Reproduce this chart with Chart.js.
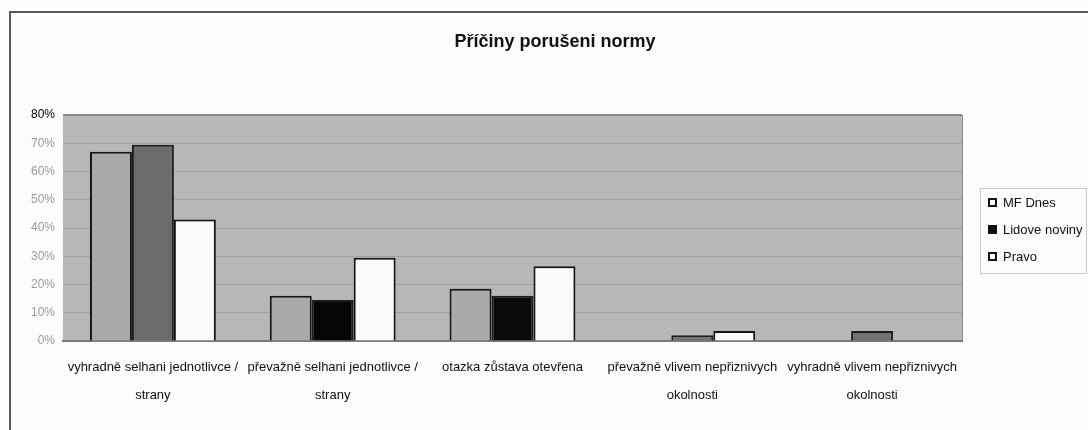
<!DOCTYPE html>
<html>
<head>
<meta charset="utf-8">
<script src="https://cdn.jsdelivr.net/npm/chart.js@4.4.1/dist/chart.umd.min.js"></script>
<style>
  html, body { margin: 0; padding: 0; background: #fcfcfc; }
  #wrap { position: relative; width: 1088px; height: 430px; }
  #legend {
    position: absolute; left: 980px; top: 188px; width: 105px; height: 84px;
    border: 1px solid #c9c9c9; font: 13px "Liberation Sans", Arial, sans-serif; color: #111;
  }
  #legend div { position: absolute; left: 7px; height: 16px; line-height: 16px; white-space: nowrap; }
  #legend span {
    display: inline-block; width: 5px; height: 5px; border: 2px solid #111;
    margin-right: 6px; vertical-align: middle; position: relative; top: -1px;
  }
</style>
</head>
<body>
<div id="wrap">
  <canvas id="myChart" width="1088" height="430"></canvas>
  <div id="legend"></div>
</div>
<script>
const categories = [
  ['vyhradně selhani jednotlivce /', 'strany'],
  ['převažně selhani jednotlivce /', 'strany'],
  ['otazka zůstava otevřena'],
  ['převažně vlivem nepřiznivych', 'okolnosti'],
  ['vyhradně vlivem nepřiznivych', 'okolnosti']
];
const seriesNames = ['MF Dnes', 'Lidove noviny', 'Pravo'];
const mfDnes = [67, 16, 18.5, 0, 0];
const lidoveNoviny = [69.5, 14.5, 16, 2, 3.5];
const pravo = [43, 29.5, 26.5, 3.5, 0];
const yTicks = [0, 10, 20, 30, 40, 50, 60, 70, 80];

const font = '"Liberation Sans", Arial, sans-serif';

// legend markers
const legendFill = ['#ffffff', '#111111', '#ffffff'];
const legendTops = [6, 33, 60];
const legend = document.getElementById('legend');
seriesNames.forEach(function (name, i) {
  const row = document.createElement('div');
  row.style.top = legendTops[i] + 'px';
  row.innerHTML = '<span style="background:' + legendFill[i] + '"></span>' + name;
  legend.appendChild(row);
});

// grey plot background + outer frame
const frame = {
  id: 'frame',
  beforeDraw(chart) {
    const a = chart.chartArea, c = chart.ctx;
    c.save();
    c.fillStyle = '#b7b7b7';
    c.fillRect(a.left, a.top, a.right - a.left, a.bottom - a.top);
    c.strokeStyle = '#8c8c8c';
    c.lineWidth = 1;
    c.beginPath();
    c.moveTo(a.right + 0.5, a.top);
    c.lineTo(a.right + 0.5, a.bottom);
    c.stroke();
    c.restore();
  },
  afterDraw(chart) {
    const c = chart.ctx;
    c.save();
    c.strokeStyle = '#5a5a5a';
    c.lineWidth = 2;
    c.beginPath();
    c.moveTo(10, 430);
    c.lineTo(10, 12);
    c.lineTo(1088, 12);
    c.stroke();
    c.restore();
  }
};

var ctx = document.getElementById('myChart').getContext('2d');

var chart = new Chart(ctx, {
  type: 'bar',
  data: {
    labels: categories,
    datasets: [
      {
        label: seriesNames[0],
        backgroundColor: '#a9a9a9',
        borderColor: '#141414',
        borderWidth: 2,
        data: mfDnes
      },
      {
        label: seriesNames[1],
        backgroundColor: ['#6b6b6b', '#060606', '#0a0a0a', '#727272', '#727272'],
        borderColor: '#1c1c1c',
        borderWidth: 2,
        data: lidoveNoviny
      },
      {
        label: seriesNames[2],
        backgroundColor: '#fbfbfb',
        borderColor: '#141414',
        borderWidth: 2,
        data: pravo
      }
    ]
  },
  options: {
    responsive: false,
    animation: false,
    layout: { padding: { left: 22, right: 0, top: 0, bottom: 0 } },
    datasets: { bar: { categoryPercentage: 0.7, barPercentage: 1 } },
    plugins: {
      legend: { display: false },
      tooltip: { enabled: false },
      title: {
        display: true,
        text: 'Příčiny porušeni normy',
        color: '#111',
        font: { family: font, size: 18, weight: 'bold' },
        padding: { top: 31, bottom: 62.4 }
      }
    },
    scales: {
      x: {
        grid: { display: false, drawTicks: false },
        border: { display: true, color: '#7a7a7a', width: 2 },
        ticks: {
          color: '#111',
          font: { family: font, size: 13, lineHeight: 2.2 },
          padding: 12,
          maxRotation: 0,
          autoSkip: false
        },
        afterFit(s) { s.height = 89; }
      },
      y: {
        min: 0,
        max: 80,
        afterBuildTicks(s) { s.ticks = yTicks.map(function (v) { return { value: v }; }); },
        grid: {
          color: function (c) { return c.tick.value === 80 ? '#8a8a8a' : '#a2a2a2'; },
          lineWidth: function (c) { return c.tick.value === 80 ? 2 : 1; },
          drawTicks: false
        },
        border: { display: false },
        ticks: {
          padding: 8,
          font: { family: font, size: 12 },
          color: function (c) { return c.tick.value === 80 ? '#000' : '#9a9a9a'; },
          callback: function (v) { return v + '%'; }
        },
        afterFit(s) { s.width = 41; }
      },
      side: {
        position: 'right',
        display: true,
        grid: { display: false },
        border: { display: false },
        ticks: { display: false },
        afterFit(s) { s.width = 126; }
      }
    }
  },
  plugins: [frame]
});
</script>
</body>
</html>
